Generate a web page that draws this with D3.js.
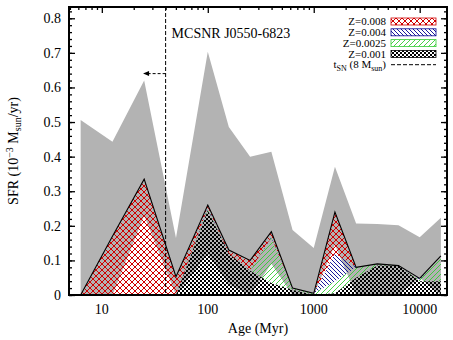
<!DOCTYPE html>
<html><head><meta charset="utf-8">
<script src="https://cdn.jsdelivr.net/npm/d3@7"></script>
<style>
body{margin:0;background:#fff}
svg{display:block}
text{font-family:"Liberation Serif","Times New Roman",serif;fill:#000}
</style>
</head><body>
<svg id="c" width="453" height="340"></svg>
<script>
// ---- data ----
const ages   = [6.31, 12.6, 25.1, 50.1, 100, 158, 251, 398, 631, 1000, 1585, 2512, 3981, 6310, 10000, 15849];
const z001   = [0, 0, 0, 0, 0.245, 0.12, 0.07, 0.035, 0.015, 0, 0.005, 0.05, 0.085, 0.085, 0.04, 0.04];
const z0025  = [0, 0, 0, 0, 0.004, 0, 0, 0.13, 0.005, 0.005, 0.035, 0.03, 0.005, 0, 0.005, 0.073];
const z004   = [0, 0, 0, 0, 0.004, 0, 0, 0.003, 0, 0, 0.08, 0, 0, 0, 0.003, 0];
const z008   = [0, 0.17, 0.335, 0.053, 0.007, 0.01, 0.03, 0.015, 0, 0, 0.12, 0, 0, 0, 0, 0];
const sfrUpper = [0.506, 0.443, 0.62, 0.165, 0.703, 0.486, 0.40, 0.414, 0.188, 0.136, 0.371, 0.207, 0.205, 0.202, 0.167, 0.223];
const sfrLower = [0, 0, 0.23, 0, 0.12, 0.03, 0, 0.09, 0, 0, 0.145, 0, 0, 0, 0.05, 0];
const yTicks = [0, 0.1, 0.2, 0.3, 0.4, 0.5, 0.6, 0.7, 0.8];
const yTickLabels = ["0", "0.1", "0.2", "0.3", "0.4", "0.5", "0.6", "0.7", "0.8"];
const xTicks = [10, 100, 1000, 10000];
const xTickLabels = ["10", "100", "1000", "10000"];
const seriesKeys = ["z001", "z0025", "z004", "z008"];
const seriesNames = ["Z=0.001", "Z=0.0025", "Z=0.004", "Z=0.008"];
const tSN = 40;          // Myr, lifetime of an 8 Msun star
const arrowTo = 24.5;    // Myr
const arrowY = 0.64;
const snrName = "MCSNR J0550-6823";

(function () {
// ---- layout ----
const L = 69, R = 447, T = 7, B = 295;
const svg = d3.select("#c");
const x = d3.scaleLog().domain([4.9, 18100]).range([L, R]);
const y = d3.scaleLinear().domain([0, 0.8326]).range([B, T]);

const colors = {z001: "#000000", z0025: "#33cc33", z004: "#000090", z008: "#d00000"};

// ---- patterns ----
const defs = svg.append("defs");
function mkPat(id, w, h) {
  return defs.append("pattern").attr("id", id).attr("patternUnits", "userSpaceOnUse")
    .attr("width", w).attr("height", h);
}
let p = mkPat("p_z008", 6, 6);
p.append("path").attr("d", "M0,0L6,6M6,0L0,6").attr("stroke", colors.z008).attr("stroke-width", 1).attr("fill", "none");
p = mkPat("p_z004", 4, 4);
p.append("path").attr("d", "M-1,-1L5,5M-1,3L1,5M3,-1L5,1").attr("stroke", colors.z004).attr("stroke-width", 0.9).attr("fill", "none");
p = mkPat("p_z0025", 5, 5);
p.append("path").attr("d", "M-1,6L6,-1M-1,1L1,-1M4,6L6,4").attr("stroke", colors.z0025).attr("stroke-width", 0.9).attr("fill", "none");
p = mkPat("p_z001", 4, 4);
p.append("rect").attr("x", 0).attr("y", 0).attr("width", 2).attr("height", 2).attr("fill", "#000");
p.append("rect").attr("x", 2).attr("y", 2).attr("width", 2).attr("height", 2).attr("fill", "#000");

// ---- data table ----
const table = ages.map((a, i) => ({age: a, z001: z001[i], z0025: z0025[i], z004: z004[i], z008: z008[i],
  up: sfrUpper[i], lo: sfrLower[i]}));

// gray uncertainty band
svg.append("path").datum(table)
  .attr("fill", "#b3b3b3")
  .attr("d", d3.area().x(d => x(d.age)).y0(d => y(d.lo)).y1(d => y(d.up)));

// stacked pattern layers
const stacked = d3.stack().keys(seriesKeys)(table);
const area = d3.area().x(d => x(d.data.age)).y0(d => y(d[0])).y1(d => y(d[1]));
svg.append("g").selectAll("path").data(stacked).join("path")
  .attr("fill", d => `url(#p_${d.key})`)
  .attr("d", area);

// outline of the total
const totalLayer = stacked[stacked.length - 1];
svg.append("path").datum(totalLayer)
  .attr("fill", "none").attr("stroke", "#000").attr("stroke-width", 1.1)
  .attr("d", d3.line().x(d => x(d.data.age)).y(d => y(d[1])));

// t_SN line and arrow
svg.append("line").attr("x1", x(tSN)).attr("x2", x(tSN)).attr("y1", T).attr("y2", B)
  .attr("stroke", "#000").attr("stroke-width", 1).attr("stroke-dasharray", "4,2");
svg.append("line").attr("x1", x(tSN)).attr("x2", x(arrowTo) + 4).attr("y1", y(arrowY)).attr("y2", y(arrowY))
  .attr("stroke", "#000").attr("stroke-width", 1).attr("stroke-dasharray", "3,2");
{
  const ax = x(arrowTo), ay = y(arrowY);
  svg.append("path").attr("d", `M${ax},${ay}L${ax + 6},${ay - 2.5}L${ax + 6},${ay + 2.5}Z`).attr("fill", "#000");
}
svg.append("text").attr("x", x(tSN) + 6).attr("y", 38).attr("font-size", 14).text(snrName);

// ---- axes ticks ----
const g = svg.append("g");
const yMinor = d3.range(0, 0.8301, 0.02);
g.append("g").attr("transform", `translate(${L},0)`).call(d3.axisRight(y).tickValues(yMinor).tickSize(3).tickFormat(""));
g.append("g").attr("transform", `translate(${L},0)`).call(d3.axisRight(y).tickValues(yTicks).tickSize(6).tickFormat(""));
g.append("g").attr("transform", `translate(${R},0)`).call(d3.axisLeft(y).tickValues(yMinor).tickSize(3).tickFormat(""));
g.append("g").attr("transform", `translate(${R},0)`).call(d3.axisLeft(y).tickValues(yTicks).tickSize(6).tickFormat(""));
const xMinor = [];
[1, 10, 100, 1000, 10000].forEach(dec => { for (let k = 2; k <= 9; k++) { const v = dec * k; if (v > 4.9 && v < 18100) xMinor.push(v); } });
g.append("g").attr("transform", `translate(0,${T})`).call(d3.axisBottom(x).tickValues(xMinor).tickSize(3).tickFormat(""));
g.append("g").attr("transform", `translate(0,${T})`).call(d3.axisBottom(x).tickValues(xTicks).tickSize(6).tickFormat(""));
g.selectAll(".domain").remove();
g.selectAll(".tick line").attr("stroke", "#000").attr("stroke-width", 1.3);

// tick labels
svg.append("g").selectAll("text").data(yTicks).join("text")
  .attr("x", 61).attr("y", d => y(d)).attr("dy", "0.35em").attr("text-anchor", "end").attr("font-size", 14)
  .text((d, i) => yTickLabels[i]);
svg.append("g").selectAll("text").data(xTicks).join("text")
  .attr("x", d => x(d)).attr("y", 314).attr("text-anchor", "middle").attr("font-size", 14)
  .text((d, i) => xTickLabels[i]);

// border
svg.append("rect").attr("x", L).attr("y", T).attr("width", R - L).attr("height", B - T)
  .attr("fill", "none").attr("stroke", "#000").attr("stroke-width", 2);

// axis titles
svg.append("text").attr("x", (L + R) / 2).attr("y", 333).attr("text-anchor", "middle").attr("font-size", 14).text("Age (Myr)");
{
  const t = svg.append("text").attr("transform", `translate(18,151) rotate(-90)`).attr("text-anchor", "middle").attr("font-size", 14);
  t.append("tspan").text("SFR (10");
  t.append("tspan").attr("dy", -5).attr("font-size", 10).text("\u22123");
  t.append("tspan").attr("dy", 5).text(" M");
  t.append("tspan").attr("dy", 3).attr("font-size", 10).text("sun");
  t.append("tspan").attr("dy", -3).text("/yr)");
}

// ---- legend ----
const legOrder = ["z008", "z004", "z0025", "z001"];
const legRowY = i => 21.5 + i * 10.8;
const leg = svg.append("g");
legOrder.forEach((k, i) => {
  const cy = legRowY(i);
  leg.append("text").attr("x", 386).attr("y", cy).attr("dy", "0.33em").attr("text-anchor", "end").attr("font-size", 11)
    .text(seriesNames[seriesKeys.indexOf(k)]);
  leg.append("rect").attr("x", 391).attr("y", cy - 3.5).attr("width", 45).attr("height", 7)
    .attr("fill", `url(#p_${k})`).attr("stroke", colors[k]).attr("stroke-width", 0.8);
});
{
  const cy = legRowY(4);
  const t = leg.append("text").attr("x", 386).attr("y", cy).attr("dy", "0.33em").attr("text-anchor", "end").attr("font-size", 11);
  t.append("tspan").text("t");
  t.append("tspan").attr("dy", 2.5).attr("font-size", 8).text("SN");
  t.append("tspan").attr("dy", -2.5).text(" (8 M");
  t.append("tspan").attr("dy", 2.5).attr("font-size", 8).text("sun");
  t.append("tspan").attr("dy", -2.5).text(")");
  leg.append("line").attr("x1", 391).attr("x2", 436).attr("y1", cy).attr("y2", cy)
    .attr("stroke", "#000").attr("stroke-width", 1).attr("stroke-dasharray", "4,2");
}
})();
</script>
</body></html>
